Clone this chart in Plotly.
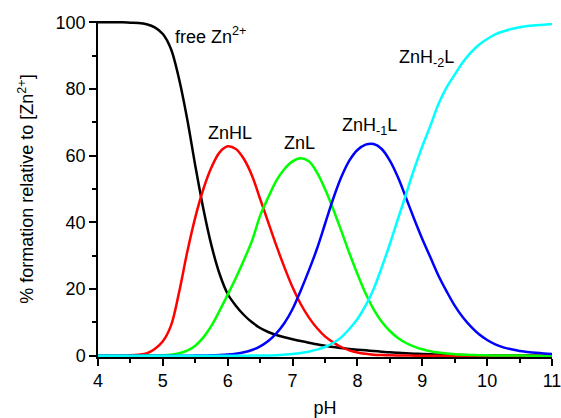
import plotly.graph_objects as go

ph = [4.0 + 0.125 * i for i in range(57)]

free_zn = [100, 100, 100, 100, 99.9, 99.8, 99.4, 98.5, 96.5, 92, 83, 71, 57, 44, 33, 24.5,
           18.5, 15, 12.2, 10, 8.3, 7.1, 6.2, 5.5, 4.9, 4.4, 3.9, 3.4, 3.0, 2.6, 2.3, 2.0,
           1.8, 1.6, 1.4, 1.2, 1.0, 0.85, 0.72, 0.6, 0.5, 0.42, 0.35, 0.28, 0.22, 0.18, 0.14,
           0.11, 0.09, 0.07, 0.05, 0.04, 0.03, 0.02, 0.02, 0.01, 0.01]
znhl = [0, 0, 0, 0.05, 0.1, 0.3, 0.7, 2, 4.3, 9, 19, 31, 41.5, 50, 56.5, 61,
        62.8, 62, 59, 54, 47, 40, 33, 26.5, 20.5, 15.5, 11.5, 8.3, 5.8, 4.0, 2.6, 1.6,
        0.95, 0.55, 0.3, 0.17, 0.09, 0.05, 0.03, 0.01, 0.01, 0, 0, 0, 0, 0, 0,
        0, 0, 0, 0, 0, 0, 0, 0, 0, 0]
znl = [0, 0, 0, 0, 0, 0, 0.02, 0.05, 0.1, 0.3, 0.7, 1.5, 3, 5.5, 9, 13.5,
       18.3, 23.3, 28.7, 34.5, 42, 47.5, 52.5, 56, 58.3, 59.2, 58.3, 55, 50, 44, 37.5, 30.8,
       24.5, 18.7, 13.9, 10.2, 7.4, 5.3, 3.8, 2.7, 1.9, 1.35, 0.95, 0.65, 0.45, 0.31, 0.21,
       0.14, 0.1, 0.07, 0.05, 0.03, 0.02, 0.01, 0.01, 0.01, 0]
znh_1l = [0, 0, 0, 0, 0, 0, 0, 0, 0, 0, 0, 0, 0.02, 0.05, 0.1, 0.2,
          0.35, 0.6, 1.0, 1.7, 2.8, 4.4, 6.7, 9.8, 14, 19.5, 25.5, 32, 39.5, 47, 53.5, 58.5,
          61.7, 63.3, 63.5, 62, 58.5, 53.5, 47.3, 41, 35, 29.5, 24, 19.3, 15, 11.5, 8.7,
          6.4, 4.7, 3.4, 2.5, 1.9, 1.4, 1.1, 0.85, 0.65, 0.5]
znh_2l = [0, 0, 0, 0, 0, 0, 0, 0, 0, 0, 0, 0, 0, 0, 0, 0,
          0, 0, 0, 0.02, 0.04, 0.08, 0.15, 0.3, 0.5, 0.8, 1.2, 1.8, 2.6, 3.8, 5.5, 8,
          11, 15, 20, 26.5, 33.5, 41, 48.5, 56, 62.8, 69, 75.5, 80.5, 84.3, 88, 91,
          93.3, 95, 96.4, 97.3, 98, 98.5, 98.9, 99.1, 99.3, 99.5]

series = [
    ("free Zn<sup>2+</sup>", free_zn, "#000000"),
    ("ZnHL", znhl, "#FF0000"),
    ("ZnL", znl, "#00FF00"),
    ("ZnH<sub>-1</sub>L", znh_1l, "#0000FF"),
    ("ZnH<sub>-2</sub>L", znh_2l, "#00FFFF"),
]

# label anchor positions (pH, %)
labels = [
    ("free Zn<sup>2+</sup>", 5.16, 96, "left"),
    ("ZnHL", 6.03, 66.8, "center"),
    ("ZnL", 7.11, 63.8, "center"),
    ("ZnH<sub>-1</sub>L", 8.18, 68.9, "center"),
    ("ZnH<sub>-2</sub>L", 9.06, 89.3, "center"),
]

FONT = "Liberation Sans, Arial, sans-serif"

fig = go.Figure()
for name, vals, color in series:
    fig.add_trace(go.Scatter(x=ph, y=vals, mode="lines", name=name,
                             line=dict(color=color, width=2.5, shape="spline", smoothing=1)))

for text, x, y, align in labels:
    fig.add_annotation(x=x, y=y, text=text, showarrow=False, xanchor=align,
                       yanchor="middle", font=dict(family=FONT, size=18, color="black"))

fig.update_layout(
    width=561, height=418,
    margin=dict(l=98, r=9, t=21, b=61),
    paper_bgcolor="white", plot_bgcolor="white",
    showlegend=False,
    font=dict(family=FONT, size=18, color="black"),
)
fig.update_xaxes(
    range=[4, 11], dtick=1, tick0=4, automargin=False, ticklabeloverflow="allow",
    showline=True, linecolor="black", linewidth=1.5, mirror=False,
    ticks="outside", ticklen=7, tickwidth=1.5, tickcolor="black",
    minor=dict(dtick=0.5, ticks="outside", ticklen=4, tickwidth=1.5, tickcolor="black"),
    showgrid=False, zeroline=False,
    tickfont=dict(size=18),
    title=dict(text="pH", font=dict(size=18), standoff=16),
)
fig.update_yaxes(
    range=[-0.4, 100.4], dtick=20, tick0=0, automargin=False,
    showline=True, linecolor="black", linewidth=1.5, mirror=False,
    ticks="outside", ticklen=7, tickwidth=1.5, tickcolor="black",
    minor=dict(dtick=10, ticks="outside", ticklen=4, tickwidth=1.5, tickcolor="black"),
    showgrid=False, zeroline=False,
    tickfont=dict(size=18),
    title=dict(text="% formation relative to [Zn<sup>2+</sup>]", font=dict(size=18), standoff=17),
)

# remove the default page margin so the figure fills the window exactly
fig.write_html("out.html",
               config={"displayModeBar": False},
               post_script="document.body.style.margin='0';document.body.style.overflow='hidden';")
